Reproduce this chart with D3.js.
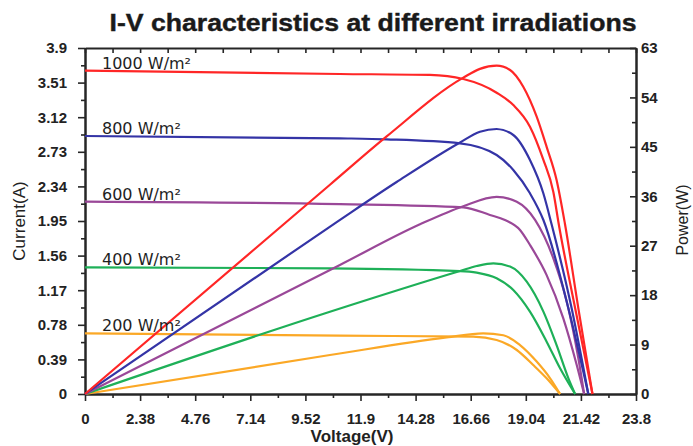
<!DOCTYPE html>
<html><head><meta charset="utf-8">
<script src="https://cdn.jsdelivr.net/npm/d3@7"></script>
<style>body{margin:0;background:#fff}svg{display:block}</style>
</head><body>
<svg id="c" width="693" height="446"></svg>
<script>
// ---------- data ----------
const irradiance = ["1000 W/m²", "800 W/m²", "600 W/m²", "400 W/m²", "200 W/m²"];
const shortCircuit = [3.644, 2.908, 2.168, 1.428, 0.684];

// [voltage (V), current (A)]
const iv1000 = [[0,3.644],[11.01,3.607],[14.90,3.596],[16.34,3.550],[17.78,3.396],[18.50,3.257],[19.22,3.013],[19.80,2.638],[20.23,2.277],[20.47,1.905],[21.17,0.969],[21.92,0]];
const iv800  = [[0,2.908],[11.01,2.882],[13.03,2.871],[16.20,2.826],[17.78,2.694],[18.50,2.525],[19.22,2.262],[19.80,1.961],[20.88,0.966],[21.74,0]];
const iv600  = [[0,2.168],[11.01,2.140],[16.34,2.104],[17.49,2.018],[18.14,1.961],[18.79,1.849],[19.22,1.680],[19.94,1.340],[20.66,0.853],[21.24,0.327],[21.56,0]];
const iv400  = [[0,1.428],[10.58,1.417],[16.20,1.386],[16.92,1.368],[17.78,1.304],[18.50,1.172],[19.22,0.928],[19.94,0.590],[20.52,0.290],[21.17,0]];
const iv200  = [[0,0.684],[11.01,0.657],[16.77,0.646],[17.78,0.609],[18.65,0.496],[19.36,0.327],[19.94,0.177],[20.52,0]];

// [voltage (V), power (W)]
const pv1000 = [[0,0],[10.58,38.1],[13.03,46.9],[16.34,57.6],[17.06,59.2],[17.78,59.78],[18.36,59.0],[18.93,55.95],[19.51,50.5],[19.94,45.0],[20.37,38.97],[20.73,31.0],[21.31,15.6],[21.92,0]];
const pv800  = [[0,0],[10.73,30.9],[13.46,38.6],[16.20,45.8],[17.06,47.76],[17.78,48.25],[18.50,47.16],[19.22,42.6],[19.80,36.5],[20.16,30.8],[21.02,15.6],[21.74,0]];
const pv600  = [[0,0],[11.01,23.5],[14.47,30.9],[16.34,34.2],[17.78,35.9],[18.65,35.0],[19.44,31.7],[20.23,24.7],[20.81,16.8],[21.31,6.5],[21.56,0]];
const pv400  = [[0,0],[10.58,14.98],[16.20,22.4],[16.92,23.3],[17.64,23.8],[18.36,23.2],[19.08,20.45],[19.80,15.0],[20.37,8.9],[20.88,2.85],[21.17,0]];
const pv200  = [[0,0],[10.58,7.1],[15.62,10.3],[17.20,11.05],[18.07,10.7],[18.79,8.9],[19.51,5.9],[20.09,2.85],[20.52,0]];

const xTicks = [0,2.38,4.76,7.14,9.52,11.9,14.28,16.66,19.04,21.42,23.8];
const xTickLabels = ["0","2.38","4.76","7.14","9.52","11.9","14.28","16.66","19.04","21.42","23.8"];
const iTicks = [0,0.39,0.78,1.17,1.56,1.95,2.34,2.73,3.12,3.51,3.9];
const iTickLabels = ["0","0.39","0.78","1.17","1.56","1.95","2.34","2.73","3.12","3.51","3.9"];
const pTicks = [0,9,18,27,36,45,54,63];
const pTickLabels = ["0","9","18","27","36","45","54","63"];

const ivSeries = [iv1000, iv800, iv600, iv400, iv200];
const pvSeries = [pv1000, pv800, pv600, pv400, pv200];
const colors = ["#ff2626", "#3434a6", "#9a4898", "#1eb058", "#fba826"];

// ---------- drawing ----------
const svg = d3.select("#c");
const x  = d3.scaleLinear().domain([0, 23.8]).range([85, 636]);
const yI = d3.scaleLinear().domain([0, 3.9]).range([394, 48]);
const yP = d3.scaleLinear().domain([0, 63]).range([394, 48]);
const mid = arr => d3.pairs(arr).map(([a, b]) => (a + b) / 2);

const axisColor = "#262626";
const tickFont = "bold 15px 'Liberation Sans', Arial, sans-serif";

function styleAxis(g) {
  g.selectAll(".domain").attr("stroke", axisColor).attr("stroke-width", 2);
  g.selectAll(".tick line").attr("stroke", axisColor).attr("stroke-width", 1.6);
  g.selectAll("text").style("font", tickFont).attr("fill", "#222");
}

// top frame line with inward ticks
svg.append("g").attr("transform", "translate(0,48)")
  .call(d3.axisBottom(x).tickValues(xTicks.concat(mid(xTicks))).tickFormat("").tickSize(5).tickSizeOuter(0))
  .call(styleAxis);

// bottom axis
svg.append("g").attr("transform", "translate(0,394)")
  .call(d3.axisBottom(x).tickValues(mid(xTicks)).tickFormat("").tickSize(4).tickSizeOuter(0))
  .call(styleAxis);
svg.append("g").attr("transform", "translate(0,394)")
  .call(d3.axisBottom(x).tickValues(xTicks).tickFormat((d, i) => xTickLabels[i]).tickSize(7).tickSizeOuter(0).tickPadding(12))
  .call(styleAxis);

// left axis
svg.append("g").attr("transform", "translate(85,0)")
  .call(d3.axisLeft(yI).tickValues(mid(iTicks)).tickFormat("").tickSize(4).tickSizeOuter(0))
  .call(styleAxis);
svg.append("g").attr("transform", "translate(85,0)")
  .call(d3.axisLeft(yI).tickValues(iTicks).tickFormat((d, i) => iTickLabels[i]).tickSize(7).tickSizeOuter(0).tickPadding(11))
  .call(styleAxis);

// right axis (ticks point inward)
svg.append("g").attr("transform", "translate(636,0)")
  .call(d3.axisRight(yP).tickValues(mid(pTicks)).tickFormat("").tickSize(-4).tickSizeOuter(0))
  .call(styleAxis);
svg.append("g").attr("transform", "translate(636,0)")
  .call(d3.axisRight(yP).tickValues(pTicks).tickFormat((d, i) => pTickLabels[i]).tickSize(-6).tickSizeOuter(0).tickPadding(5))
  .call(styleAxis);

// curves
const lineI = d3.line().x(d => x(d[0])).y(d => yI(d[1])).curve(d3.curveMonotoneX);
const lineP = d3.line().x(d => x(d[0])).y(d => yP(d[1])).curve(d3.curveMonotoneX);
const curves = svg.append("g").attr("fill", "none").attr("stroke-width", 2.2).attr("stroke-linejoin", "round");
for (let i = ivSeries.length - 1; i >= 0; i--) {
  curves.append("path").attr("d", lineP(pvSeries[i])).attr("stroke", colors[i]);
  curves.append("path").attr("d", lineI(ivSeries[i])).attr("stroke", colors[i]);
}

// irradiance labels
svg.append("g").selectAll("text").data(irradiance).join("text")
  .attr("x", 102)
  .attr("y", (d, i) => yI(shortCircuit[i]) - 2)
  .style("font", "16px 'DejaVu Sans', sans-serif")
  .attr("fill", "#1e1e1e")
  .text(d => d);

// titles
svg.append("text").attr("x", 373).attr("y", 31).attr("text-anchor", "middle")
  .attr("textLength", 527).attr("lengthAdjust", "spacingAndGlyphs")
  .style("font", "bold 24px 'Liberation Sans', Arial, sans-serif").attr("fill", "#1a1a1a")
  .attr("stroke", "#1a1a1a").attr("stroke-width", 0.4)
  .text("I-V characteristics at different irradiations");
svg.append("text").attr("x", 352).attr("y", 442).attr("text-anchor", "middle")
  .style("font", "bold 17px 'Liberation Sans', Arial, sans-serif").attr("fill", "#222")
  .text("Voltage(V)");
svg.append("text").attr("transform", "translate(25,221) rotate(-90)").attr("text-anchor", "middle")
  .style("font", "17px 'Liberation Sans', Arial, sans-serif").attr("fill", "#222")
  .text("Current(A)");
svg.append("text").attr("transform", "translate(688,220) rotate(-90)").attr("text-anchor", "middle")
  .style("font", "16px 'Liberation Sans', Arial, sans-serif").attr("fill", "#222")
  .text("Power(W)");
</script>
</body></html>
